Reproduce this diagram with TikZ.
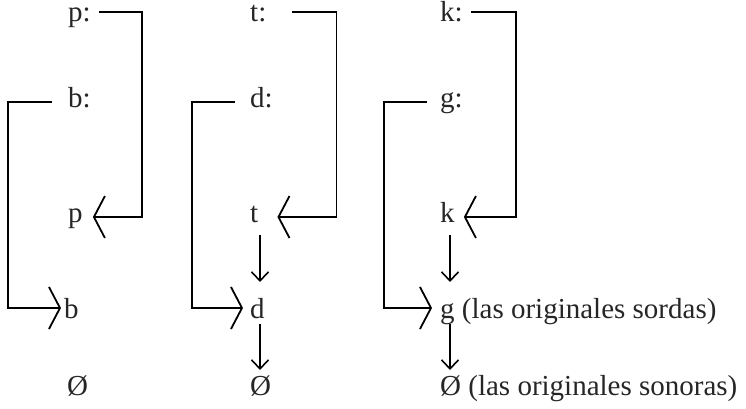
\documentclass[tikz,border=0pt]{standalone}
\usepackage{fontspec}
\setmainfont{Liberation Serif}
\usetikzlibrary{arrows.meta}

\tikzset{
  sound/.style={anchor=base west, inner sep=0pt, text=black!85, font=\fontsize{29}{33}\selectfont},
  bracket/.style={line width=1.8pt, -{Straight Barb[length=11pt, width=42pt, line width=1.8pt]}},
  change/.style={line width=1.6pt, -{Straight Barb[length=9pt, width=17pt, line width=1.6pt]}}
}

\begin{document}
\begin{tikzpicture}[x=1pt, y=-1pt]
\useasboundingbox (0,0) rectangle (746,409);

% column p / b
\node[sound](p1) at (68,22) {p:};
\node[sound](b1) at (68,108) {b:};
\node[sound](p2) at (68,222) {p};
\node[sound](b2) at (64,318) {b};
\node[sound](z1) at (67,395) {Ø};

% column t / d
\node[sound](t1) at (250,22) {t:};
\node[sound](d1) at (250,108) {d:};
\node[sound](t2) at (250,222) {t};
\node[sound](d2) at (250,318) {d};
\node[sound](z2) at (250,395) {Ø};

% column k / g
\node[sound](k1) at (440,22) {k:};
\node[sound](g1) at (440,108) {g:};
\node[sound](k2) at (440,222) {k};
\node[sound](g2) at (440,318) {g (las originales sordas)};
\node[sound](z3) at (440,395) {Ø (las originales sonoras)};

% brackets
\draw[bracket] ([xshift=8pt,yshift=10pt]p1.base east) -- ++(43,0) |- ([xshift=10pt,yshift=5pt]p2.base east);
\draw[bracket] ([xshift=-16pt,yshift=6pt]b1.base west) -- ++(-44,0) |- ([xshift=-3pt,yshift=10pt]b2.base west);

\draw[bracket] ([xshift=25pt,yshift=10pt]t1.base east) -- ++(45,0) |- ([xshift=19pt,yshift=5pt]t2.base east);
\draw[bracket] ([xshift=-15pt,yshift=6pt]d1.base west) -- ++(-43,0) |- ([xshift=-7pt,yshift=10pt]d2.base west);

\draw[bracket] ([xshift=8pt,yshift=10pt]k1.base east) -- ++(45,0) |- ([xshift=9pt,yshift=5pt]k2.base east);
\draw[bracket] ([xshift=-13pt,yshift=6pt]g1.base west) -- ++(-43,0) |- ([xshift=-8pt,yshift=10pt]g2.base west);

% sound changes
\draw[change] ([xshift=10pt,yshift=-13pt]t2.base west) -- ([xshift=10pt,yshift=36pt]d2.base west);
\draw[change] ([xshift=10pt,yshift=-6pt]d2.base west) -- ([xshift=10pt,yshift=25pt]z2.base west);
\draw[change] ([xshift=10pt,yshift=-13pt]k2.base west) -- ([xshift=10pt,yshift=36pt]g2.base west);
\draw[change] ([xshift=10pt,yshift=-6pt]g2.base west) -- ([xshift=10pt,yshift=25pt]z3.base west);
\end{tikzpicture}
\end{document}
